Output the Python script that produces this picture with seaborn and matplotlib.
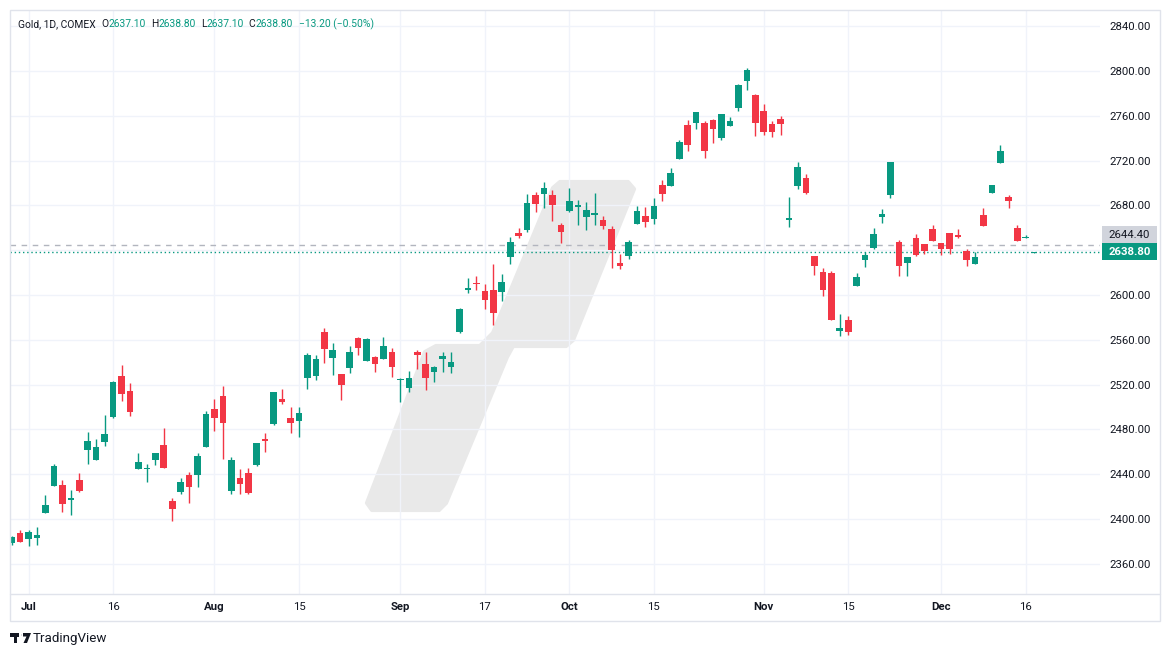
import numpy as np
import pandas as pd
import matplotlib
matplotlib.use("Agg")
import matplotlib.pyplot as plt
from matplotlib.patches import Polygon, Rectangle, Circle
from matplotlib.lines import Line2D
import seaborn as sns

# ---- datos (velas diarias, Gold COMEX) ----
dates = pd.bdate_range("2024-06-27", "2024-12-17")
dates = dates.drop(pd.to_datetime(["2024-07-04", "2024-09-02"]))

opens = [2378.5, 2387.6, 2382.5, 2383.4, 2405.6, 2429.6, 2430.2, 2417.2, 2434.7, 2461.6,
         2452.7, 2468.7, 2491.0, 2528.0, 2514.7, 2444.7, 2444.7, 2452.7, 2465.8, 2416.0,
         2424.3, 2439.1, 2439.4, 2464.6, 2498.1, 2509.6, 2425.5, 2436.7, 2441.2, 2448.6,
         2471.4, 2485.0, 2507.0, 2490.1, 2487.7, 2525.9, 2527.7, 2567.4, 2543.7, 2529.2,
         2534.8, 2561.2, 2541.0, 2544.4, 2542.9, 2548.8, 2524.2, 2517.0, 2549.1, 2538.1,
         2531.3, 2542.9, 2535.8, 2567.0, 2604.8, 2610.4, 2603.3, 2604.2, 2602.7, 2633.9,
         2655.0, 2657.7, 2688.9, 2690.1, 2689.0, 2662.3, 2674.8, 2678.7, 2669.7, 2671.5,
         2666.8, 2658.7, 2628.4, 2634.9, 2663.5, 2670.3, 2667.9, 2698.0, 2697.4, 2721.5,
         2751.5, 2753.6, 2753.3, 2756.0, 2740.2, 2750.9, 2767.0, 2791.1, 2778.3, 2764.0,
         2752.4, 2756.9, 2667.1, 2697.4, 2704.2, 2634.6, 2620.4, 2619.5, 2568.0, 2577.5,
         2608.2, 2631.3, 2642.0, 2669.7, 2689.4, 2647.1, 2628.7, 2650.7, 2645.4, 2658.7,
         2646.2, 2655.2, 2653.4, 2639.1, 2627.8, 2671.2, 2691.4, 2717.9, 2687.3, 2659.6,
         2650.6, 2637.1]
highs = [2385.0, 2390.2, 2390.2, 2392.9, 2421.3, 2448.9, 2434.7, 2425.8, 2440.9, 2478.2,
         2471.1, 2493.3, 2523.6, 2537.8, 2521.8, 2458.7, 2449.5, 2458.7, 2480.9, 2418.7,
         2436.4, 2442.1, 2458.7, 2496.3, 2507.0, 2518.5, 2455.4, 2444.7, 2445.6, 2467.9,
         2476.7, 2513.2, 2515.8, 2499.8, 2499.8, 2547.9, 2546.1, 2570.5, 2557.6, 2529.2,
         2554.1, 2562.1, 2561.2, 2545.3, 2562.2, 2552.4, 2525.7, 2531.9, 2550.6, 2548.8,
         2536.4, 2549.5, 2548.8, 2588.1, 2614.9, 2616.7, 2609.5, 2627.4, 2618.4, 2651.7,
         2659.5, 2689.8, 2691.6, 2700.5, 2693.4, 2663.8, 2695.3, 2684.6, 2682.8, 2690.9,
         2670.3, 2661.4, 2636.4, 2648.9, 2679.3, 2678.4, 2686.4, 2702.5, 2713.2, 2738.1,
         2756.0, 2763.1, 2755.1, 2756.9, 2761.3, 2758.7, 2788.1, 2802.4, 2779.2, 2770.3,
         2755.1, 2759.6, 2687.3, 2718.5, 2707.8, 2634.6, 2623.9, 2621.3, 2583.2, 2581.1,
         2619.5, 2638.2, 2659.8, 2676.6, 2718.5, 2648.9, 2633.8, 2654.3, 2645.4, 2662.3,
         2646.2, 2655.2, 2658.7, 2640.9, 2638.2, 2677.5, 2698.0, 2733.7, 2689.1, 2662.3,
         2653.4, 2638.8]
lows = [2377.0, 2379.9, 2376.3, 2377.2, 2405.6, 2429.6, 2406.5, 2403.9, 2424.3, 2449.2,
        2452.7, 2465.2, 2490.1, 2505.2, 2491.9, 2444.7, 2433.2, 2448.0, 2445.6, 2398.5,
        2422.5, 2414.5, 2429.0, 2464.6, 2478.8, 2453.9, 2422.8, 2422.8, 2422.8, 2447.7,
        2460.1, 2484.1, 2502.8, 2477.0, 2473.5, 2516.1, 2524.1, 2539.3, 2528.6, 2506.4,
        2530.4, 2546.4, 2541.0, 2531.3, 2542.9, 2526.8, 2504.5, 2513.5, 2533.7, 2515.6,
        2522.4, 2531.6, 2530.7, 2566.1, 2601.8, 2604.5, 2587.5, 2573.2, 2594.6, 2627.7,
        2650.9, 2656.2, 2674.1, 2677.6, 2666.0, 2646.5, 2674.2, 2662.3, 2657.8, 2662.6,
        2659.0, 2624.2, 2623.0, 2631.8, 2663.5, 2660.8, 2663.5, 2684.0, 2697.4, 2721.5,
        2728.6, 2748.3, 2722.4, 2735.8, 2738.4, 2750.9, 2764.0, 2783.0, 2742.0, 2742.9,
        2741.1, 2742.9, 2660.8, 2694.7, 2690.3, 2618.0, 2599.3, 2577.8, 2563.6, 2564.5,
        2608.2, 2624.8, 2640.6, 2664.4, 2686.7, 2617.1, 2617.1, 2635.0, 2636.7, 2648.3,
        2635.8, 2636.7, 2651.0, 2626.0, 2627.8, 2661.7, 2690.6, 2717.9, 2677.8, 2648.3,
        2650.6, 2637.1]
closes = [2384.0, 2379.9, 2388.4, 2385.8, 2412.4, 2447.1, 2413.6, 2419.0, 2425.2, 2469.3,
          2464.0, 2475.6, 2522.7, 2511.4, 2495.4, 2450.7, 2445.6, 2458.7, 2445.6, 2409.2,
          2432.9, 2428.7, 2456.3, 2493.6, 2490.4, 2485.9, 2452.7, 2431.7, 2423.7, 2467.9,
          2469.9, 2513.2, 2504.6, 2485.6, 2494.5, 2546.1, 2542.5, 2551.7, 2550.5, 2519.7,
          2548.7, 2552.6, 2560.3, 2538.4, 2554.2, 2535.8, 2525.1, 2526.2, 2546.5, 2525.8,
          2535.5, 2545.4, 2539.9, 2587.2, 2605.9, 2609.5, 2595.5, 2583.9, 2611.3, 2647.0,
          2652.6, 2681.8, 2681.2, 2695.2, 2680.2, 2656.1, 2684.1, 2680.1, 2675.7, 2673.0,
          2661.7, 2640.3, 2626.0, 2647.1, 2674.8, 2665.3, 2679.3, 2690.3, 2708.7, 2736.4,
          2734.0, 2763.1, 2728.6, 2748.3, 2761.3, 2755.1, 2787.2, 2800.3, 2753.6, 2745.6,
          2745.6, 2752.7, 2668.6, 2714.1, 2691.2, 2626.0, 2604.6, 2577.8, 2570.7, 2567.1,
          2615.9, 2635.5, 2654.5, 2672.1, 2718.5, 2626.0, 2633.8, 2635.8, 2639.4, 2648.3,
          2640.6, 2641.2, 2651.9, 2631.4, 2633.8, 2661.7, 2698.0, 2728.3, 2684.0, 2648.3,
          2652.0, 2638.8]

tick_dates = ["2024-07-01", "2024-07-16", "2024-08-01", "2024-08-15", "2024-09-03", "2024-09-17",
              "2024-10-01", "2024-10-15", "2024-11-01", "2024-11-15", "2024-12-02", "2024-12-16"]
tick_labels = ["Jul", "16", "Aug", "15", "Sep", "17", "Oct", "15", "Nov", "15", "Dec", "16"]
price_ticks = [2360, 2400, 2440, 2480, 2520, 2560, 2600, 2640, 2680, 2720, 2760, 2800, 2840]
last_price = 2638.80
ref_price = 2644.40

UP = "#089981"
DOWN = "#F23645"
TXT = "#131722"
W, H = 1171, 657

sns.set_style("white")
plt.rcParams["font.family"] = ["Roboto", "DejaVu Sans"]


def px(x, y):
    return (x / W, 1 - y / H)


df = pd.DataFrame({"date": dates, "open": opens, "high": highs, "low": lows, "close": closes})
df["x"] = np.arange(len(df))
df["up"] = df["close"] >= df["open"]
df["color"] = np.where(df["up"], UP, DOWN)
df["body_lo"] = df[["open", "close"]].min(axis=1)
df["body_h"] = (df["close"] - df["open"]).abs().clip(lower=1.0)

fig = plt.figure(figsize=(W / 100, H / 100), dpi=100)
ax = fig.add_axes([10 / W, 63 / H, 1090 / W, 584 / H])

# marca de agua (logo TV)
wm = [(560, 182), (628, 182), (634, 189), (573, 340), (566, 346), (513, 346), (507, 357),
      (446, 503), (439, 510), (372, 510), (367, 503), (425, 352), (436, 346), (480, 346),
      (493, 333), (553, 188)]
ax.add_patch(Polygon([px(*p) for p in wm], closed=True, transform=fig.transFigure,
                     facecolor="#E9E9E9", edgecolor="#E9E9E9", lw=3, joinstyle="round", zorder=0.3))

# velas
ax.vlines(df["x"], df["low"], df["high"], colors=df["color"], lw=1.0, zorder=2)
ax.bar(df["x"], df["body_h"], bottom=df["body_lo"], width=0.78, color=df["color"],
       linewidth=0, zorder=3)

# líneas de precio
ax.axhline(ref_price, color="#B2B5BE", lw=1, ls=(0, (4, 4)), zorder=1.5)
ax.axhline(last_price, color=UP, lw=1, ls=(0, (1, 2)), zorder=1.5)

# ejes
tick_pos = [dates.get_loc(pd.Timestamp(d)) for d in tick_dates]
ax.set_xticks(tick_pos)
ax.set_xticklabels(tick_labels)
for lab in ax.get_xticklabels():
    if lab.get_text().isalpha():
        lab.set_fontweight("bold")
ax.set_yticks(price_ticks)
ax.set_yticklabels([f"{v:.2f}" for v in price_ticks])
ax.yaxis.tick_right()
ax.tick_params(axis="y", length=0, pad=6.5, labelsize=8.2, labelcolor=TXT)
ax.tick_params(axis="x", length=0, pad=6, labelsize=8.2, labelcolor=TXT)
ax.set_xlim(-0.2, -0.2 + 1090 / 8.45)
ax.set_ylim(2360 - 30 / 1.1208, 2840 + 16 / 1.1208)
ax.set_axisbelow(True)
ax.grid(True, color="#F0F3FA", lw=1)
for s in ax.spines.values():
    s.set_visible(False)

# marco
fig.add_artist(Rectangle(px(10, 621), 1150 / W, 611 / H, transform=fig.transFigure,
                         fill=False, edgecolor="#E0E3EB", lw=1))
fig.add_artist(Line2D([10 / W, 1160 / W], [1 - 594 / H] * 2, transform=fig.transFigure,
                      color="#E0E3EB", lw=1))

# etiquetas de precio
fig.add_artist(Rectangle(px(1102, 243), 55 / W, 17 / H, transform=fig.transFigure,
                         facecolor="#D1D4DC", edgecolor="none"))
fig.text(*px(1129.5, 234.5), "2644.40", ha="center", va="center", fontsize=8.2, color=TXT)
fig.add_artist(Rectangle(px(1102, 260), 55 / W, 16.5 / H, transform=fig.transFigure,
                         facecolor=UP, edgecolor="none"))
fig.text(*px(1129.5, 252), "2638.80", ha="center", va="center", fontsize=8.2,
         color="white", fontweight="bold")

# cabecera OHLC
renderer = fig.canvas.get_renderer()
parts = [("Gold, 1D, COMEX", TXT, 6), ("O", TXT, 0), ("2637.10", UP, 5), ("H", TXT, 0),
         ("2638.80", UP, 5), ("L", TXT, 0), ("2637.10", UP, 5), ("C", TXT, 0),
         ("2638.80", UP, 6), ("\u221213.20 (\u22120.50%)", UP, 0)]
x = 18
for s, c, gap in parts:
    t = fig.text(x / W, 1 - 24 / H, s, color=c, fontsize=7.4, ha="left", va="center")
    x = t.get_window_extent(renderer).x1 + gap

# logo TradingView
fig.add_artist(Polygon([px(10, 633), px(19, 633), px(19, 636.5), px(16.5, 636.5),
                        px(16.5, 643), px(13.5, 643), px(13.5, 636.5), px(10, 636.5)],
                       closed=True, transform=fig.transFigure, facecolor=TXT, edgecolor="none"))
fig.add_artist(Circle(px(21.5, 635), 1.6 / W, transform=fig.transFigure, facecolor=TXT))
fig.add_artist(Polygon([px(23, 633), px(31, 633), px(27, 643), px(23.5, 643), px(26.5, 636.5), px(23, 636.5)],
                       closed=True, transform=fig.transFigure, facecolor=TXT, edgecolor="none"))
fig.text(*px(33, 638.5), "TradingView", ha="left", va="center", fontsize=9.6, color=TXT)

fig.savefig("out.png", dpi=100, facecolor="white")
